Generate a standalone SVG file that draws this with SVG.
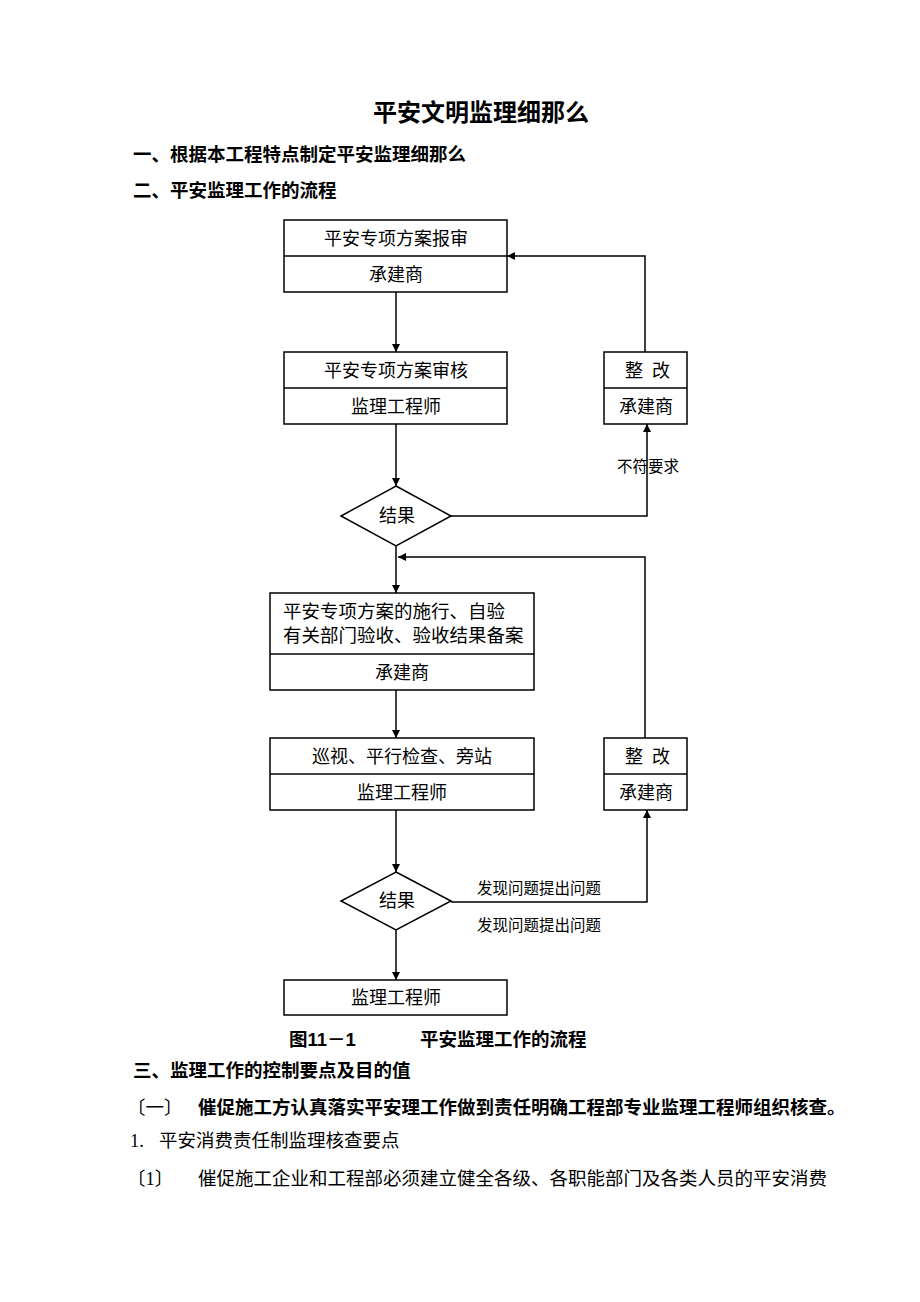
<svg xmlns="http://www.w3.org/2000/svg" width="920" height="1302" viewBox="0 0 920 1302">
<style>
.t{font-family:"Liberation Serif","Noto Sans CJK SC",serif;font-size:18px;fill:#000}
.c{text-anchor:middle}
.b{font-family:"Liberation Sans","Noto Sans CJK SC",sans-serif;font-weight:bold;font-size:18px;fill:#000}
.p{font-size:18.5px}
.s{font-family:"Liberation Serif","Noto Sans CJK SC",serif;font-size:15.5px;fill:#000}
.n{fill:#fff;stroke:#000;stroke-width:1.5}
.ln{fill:none;stroke:#000;stroke-width:1.5}
</style>
<defs>
<marker id="ah" viewBox="0 0 10 10" refX="10" refY="5" markerWidth="8" markerHeight="8" markerUnits="userSpaceOnUse" orient="auto">
<path d="M0,0 L10,5 L0,10 z" fill="#000"/>
</marker>
</defs>
<rect width="920" height="1302" fill="#fff"/>
<text class="b" x="481" y="121" text-anchor="middle" style="font-size:24px">平安文明监理细那么</text>
<text class="b p" x="133" y="161">一、根据本工程特点制定平安监理细那么</text>
<text class="b p" x="133" y="197">二、平安监理工作的流程</text>

<g id="connectors">
<line class="ln" x1="396" y1="292" x2="396" y2="352" marker-end="url(#ah)"/>
<polyline class="ln" points="645,352 645,256 507,256" marker-end="url(#ah)"/>
<line class="ln" x1="396" y1="424" x2="396" y2="486" marker-end="url(#ah)"/>
<polyline class="ln" points="451,516 647,516 647,424" marker-end="url(#ah)"/>
<line class="ln" x1="396" y1="546" x2="396" y2="593" marker-end="url(#ah)"/>
<polyline class="ln" points="645,738 645,557 398,557" marker-end="url(#ah)"/>
<line class="ln" x1="396" y1="690" x2="396" y2="738" marker-end="url(#ah)"/>
<line class="ln" x1="396" y1="810" x2="396" y2="872" marker-end="url(#ah)"/>
<polyline class="ln" points="451,902 647,902 647,810" marker-end="url(#ah)"/>
<line class="ln" x1="396" y1="930" x2="396" y2="980" marker-end="url(#ah)"/>
<text class="s" x="617" y="472">不符要求</text>
<text class="s" x="477" y="894">发现问题提出问题</text>
<text class="s" x="477" y="931">发现问题提出问题</text>
</g>

<g id="n1">
<rect class="n" x="284" y="220" width="223" height="72"/>
<line class="ln" x1="284" y1="256" x2="507" y2="256"/>
<text class="t c" x="396" y="245">平安专项方案报审</text>
<text class="t c" x="396" y="281">承建商</text>
</g>
<g id="n2">
<rect class="n" x="284" y="352" width="223" height="72"/>
<line class="ln" x1="284" y1="388" x2="507" y2="388"/>
<text class="t c" x="396" y="377">平安专项方案审核</text>
<text class="t c" x="396" y="413">监理工程师</text>
</g>
<g id="n3">
<rect class="n" x="604" y="352" width="83" height="72"/>
<line class="ln" x1="604" y1="388" x2="687" y2="388"/>
<text class="t c" x="634" y="377">整</text>
<text class="t c" x="661" y="377">改</text>
<text class="t c" x="646" y="413">承建商</text>
</g>
<g id="d1">
<polygon class="n" points="396,486 451,516 396,546 341,516"/>
<text class="t c" x="397" y="522">结果</text>
</g>
<g id="n4">
<rect class="n" x="270" y="593" width="264" height="97"/>
<line class="ln" x1="270" y1="654" x2="534" y2="654"/>
<text class="t" x="283" y="618" style="font-size:18.5px">平安专项方案的施行、自验</text>
<text class="t" x="283" y="642" style="font-size:18.5px">有关部门验收、验收结果备案</text>
<text class="t c" x="402" y="679">承建商</text>
</g>
<g id="n5">
<rect class="n" x="270" y="738" width="264" height="72"/>
<line class="ln" x1="270" y1="774" x2="534" y2="774"/>
<text class="t c" x="402" y="763">巡视、平行检查、旁站</text>
<text class="t c" x="402" y="799">监理工程师</text>
</g>
<g id="n6">
<rect class="n" x="604" y="738" width="83" height="72"/>
<line class="ln" x1="604" y1="774" x2="687" y2="774"/>
<text class="t c" x="634" y="763">整</text>
<text class="t c" x="661" y="763">改</text>
<text class="t c" x="646" y="799">承建商</text>
</g>
<g id="d2">
<polygon class="n" points="396,872 451,901 396,930 341,901"/>
<text class="t c" x="397" y="907">结果</text>
</g>
<g id="n7">
<rect class="n" x="284" y="980" width="223" height="35"/>
<text class="t c" x="396" y="1004">监理工程师</text>
</g>

<text class="b p" x="289" y="1046">图11－1</text>
<text class="b p" x="420" y="1046">平安监理工作的流程</text>
<text class="b p" x="133" y="1077">三、监理工作的控制要点及目的值</text>
<text class="t p" x="127" y="1114">〔一〕</text>
<text class="b p" x="198" y="1114">催促施工方认真落实平安理工作做到责任明确工程部专业监理工程师组织核查。</text>
<text class="t p" x="130" y="1147">1.</text>
<text class="t p" x="159" y="1147">平安消费责任制监理核查要点</text>
<text class="t p" x="127" y="1185">〔1〕</text>
<text class="t p" x="198" y="1185">催促施工企业和工程部必须建立健全各级、各职能部门及各类人员的平安消费</text>
</svg>
